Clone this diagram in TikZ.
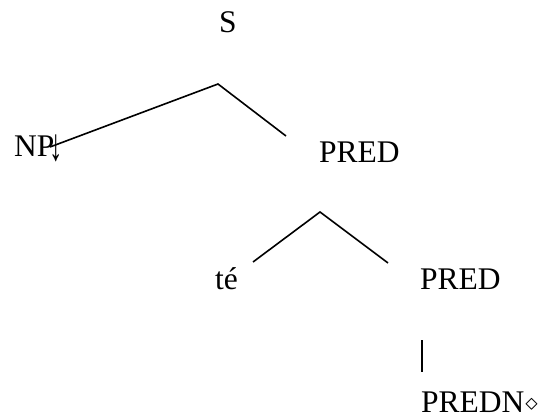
\documentclass[tikz,border=0pt]{standalone}
\usepackage{fontspec}
\setmainfont{Liberation Serif}
\begin{document}
\begin{tikzpicture}[x=1pt,y=-1pt,
  lbl/.style={anchor=base west,inner sep=0pt,font=\fontsize{31.5}{36}\selectfont},
  edge/.style={line width=1.6pt}]
\useasboundingbox (0,0) rectangle (544,417);
\node[lbl] (s) at (219,33) {S};
\node[lbl] (np) at (14,157) {NP\kern-5pt\raisebox{-4pt}{\scalebox{0.85}[1.45]{↓}}};
\node[lbl] (pred1) at (319,163) {PRED};
\node[lbl] (te) at (215,289) {té};
\node[lbl] (pred2) at (420,289) {PRED};
\node[lbl] (predn) at (421,412) {PREDN\kern1pt\raisebox{2pt}{$\diamond$}};
\coordinate (a1) at (218,84);
\coordinate (l1) at (50,147);
\coordinate (r1) at (286,136);
\coordinate (a2) at (320,212);
\coordinate (l2) at (253,262);
\coordinate (r2) at (388,263);
\coordinate (t3) at (422,340);
\coordinate (b3) at (422,372);
\draw[edge] (l1) -- (a1) -- (r1);
\draw[edge] (l2) -- (a2) -- (r2);
\draw[edge] (t3) -- (b3);
\end{tikzpicture}
\end{document}
